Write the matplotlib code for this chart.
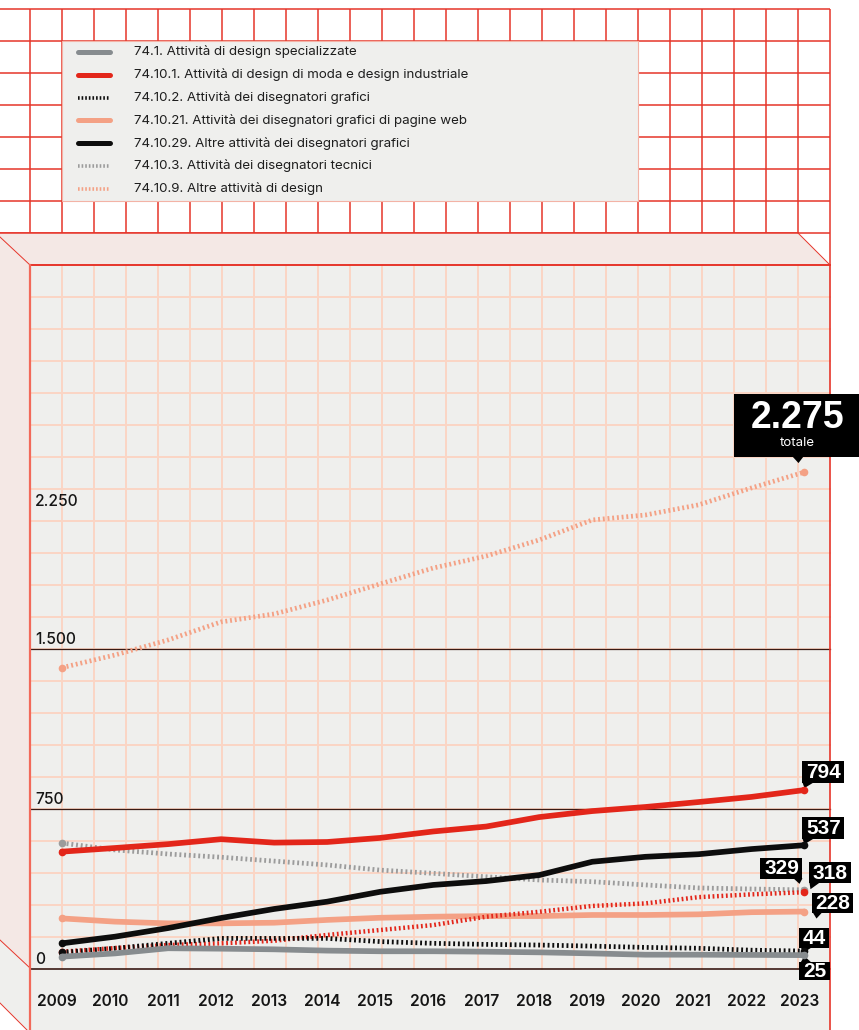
import numpy as np
import matplotlib
matplotlib.use("Agg")
import matplotlib.pyplot as plt
from matplotlib.patches import Polygon, Rectangle

# ---------------- data ----------------
years = list(range(2009, 2024))

s_74_1 = [18, 33, 57, 55, 52, 46, 43, 43, 41, 38, 33, 27, 27, 26, 25]
s_74_10_1 = [507, 524, 542, 565, 549, 552, 571, 601, 624, 668, 696, 715, 738, 762, 794]
s_74_10_2 = [38, 57, 80, 103, 103, 103, 88, 80, 75, 72, 67, 61, 57, 48, 44]
s_74_10_21 = [196, 181, 173, 173, 176, 189, 199, 204, 207, 207, 212, 212, 215, 225, 228]
s_74_10_29 = [80, 111, 151, 198, 240, 274, 320, 352, 370, 398, 460, 483, 495, 519, 537]
s_74_10_3 = [547, 515, 496, 481, 463, 445, 421, 406, 390, 375, 367, 352, 338, 333, 329]
s_74_10_9 = [41, 58, 72, 80, 92, 119, 142, 165, 204, 227, 254, 266, 295, 308, 318]
totale = [1364, 1423, 1493, 1577, 1614, 1679, 1754, 1828, 1884, 1959, 2052, 2075, 2122, 2201, 2275]

legend_labels = [
    "74.1. Attività di design specializzate",
    "74.10.1. Attività di design di moda e design industriale",
    "74.10.2. Attività dei disegnatori grafici",
    "74.10.21. Attività dei disegnatori grafici di pagine web",
    "74.10.29. Altre attività dei disegnatori grafici",
    "74.10.3. Attività dei disegnatori tecnici",
    "74.10.9. Altre attività di design",
]
y_tick_labels = ["0", "750", "1.500", "2.250"]
total_caption = "totale"

# ---------------- style ----------------
RED = "#e6352a"
GRID_SALMON = "#fbd5c4"
PANEL = "#efefed"
PINK = "#f4e8e5"
GREY = "#878c8f"
GREY_DOT = "#9c9c9c"
SALMON = "#f4a185"
BLACK = "#0d0d0d"
FONT = "Inter"
NUMFONT = "Liberation Sans"

W, H = 859, 1030
fig = plt.figure(figsize=(W / 100, H / 100), dpi=100)
fig.patch.set_facecolor("white")

# background canvas in pixel units (y downward)
bg = fig.add_axes([0, 0, 1, 1])
bg.set_xlim(0, W)
bg.set_ylim(H, 0)
bg.axis("off")

# data axes
PL, PR, PT, PB = 30, 830, 265, 1030
ax = fig.add_axes([PL / W, (H - PB) / H, (PR - PL) / W, (PB - PT) / H])
ax.set_xlim(2008.397, 2023.481)
ax.set_ylim(-323.7, 3239.4)
ax.axis("off")
ax.patch.set_alpha(0)


def to_bg(x, y):
    return bg.transData.inverted().transform(ax.transData.transform((x, y)))


# --- top red grid ---
for y in np.arange(9, 234, 32):
    bg.plot([0, 830], [y, y], color=RED, lw=1.1, zorder=1, solid_capstyle="butt")
for x in np.arange(30, 831, 32):
    y1 = 265 if x == 830 else 233
    bg.plot([x, x], [9, y1], color=RED, lw=1.1, zorder=1, solid_capstyle="butt")

# --- legend box ---
bg.add_patch(Rectangle((62, 41), 576, 160, facecolor=PANEL, edgecolor="#f3b3a6",
                       lw=0.8, zorder=2))

# --- ceiling band and left wall ---
bg.add_patch(Polygon([(0, 233), (798, 233), (830, 265), (30, 265), (0, 237)],
                     closed=True, facecolor=PINK, edgecolor="none", zorder=3))
bg.plot([0, 798], [233, 233], color=RED, lw=1.1, zorder=3.5)
bg.add_patch(Polygon([(0, 237), (30, 265), (30, 968), (0, 940)],
                     closed=True, facecolor=PINK, edgecolor="none", zorder=3))
bg.add_patch(Polygon([(0, 940), (30, 968), (30, 1030), (27, 1030), (0, 1003)],
                     closed=True, facecolor=PANEL, edgecolor="none", zorder=3))
for (x0, y0, x1, y1) in [(0, 237, 30, 265), (798, 233, 830, 265),
                         (0, 940, 30, 968), (0, 1003, 27, 1030)]:
    bg.plot([x0, x1], [y0, y1], color=RED, lw=0.7, zorder=3.5)

# --- back panel ---
bg.add_patch(Rectangle((PL, PT), PR - PL, PB - PT, facecolor=PANEL, edgecolor="none", zorder=3))
ZERO_PX = 969
for x in np.arange(62, 800, 32):
    bg.plot([x, x], [PT, ZERO_PX], color=GRID_SALMON, lw=1.4, zorder=3.2)
for y in np.arange(297, ZERO_PX, 32):
    bg.plot([PL, PR], [y, y], color=GRID_SALMON, lw=1.4, zorder=3.2)

# reference lines (0, 750, 1.500) on the tick scale: 160 px per 750
px_per_unit = 160 / 750
tick_vals = [0, 750, 1500, 2250]
for v in tick_vals[:3]:
    yy = ZERO_PX - v * px_per_unit
    bg.plot([PL, PR], [yy, yy], color="#3a1a14", lw=0.9 if v else 1.2, zorder=3.4)
label_y = [960, 800, 640, 501]
for lab, yy in zip(y_tick_labels, label_y):
    bg.text(35, yy, lab, ha="left", va="center", fontsize=11.2, family=FONT,
            fontweight="medium", color="#151515", zorder=4)

# borders
bg.plot([PL, PR], [PT, PT], color=RED, lw=1.4, zorder=3.6)
bg.plot([PL, PL], [PT, PB], color="#f2695a", lw=1.6, zorder=3.6)
bg.plot([PR, PR], [PT, PB], color=RED, lw=1.2, zorder=3.6)

# year labels
for yr in years:
    xx, _ = to_bg(yr, 0)
    bg.text(xx - 5, 1002, str(yr), ha="center", va="center", fontsize=11.2,
            family=FONT, fontweight="semibold", color="#151515", zorder=4)

# ---------------- series ----------------
DOT = (0, (0.4, 0.6))
series = [
    (totale, SALMON, "dot", 3.4),
    (s_74_10_3, GREY_DOT, "dot", 3.4),
    (s_74_10_1, "#e3261a", "solid", 4.1),
    (s_74_10_21, SALMON, "solid", 4.1),
    (s_74_10_29, BLACK, "solid", 4.1),
    (s_74_10_9, "#e3261a", "dot", 3.2),
    (s_74_10_2, BLACK, "dot", 3.4),
    (s_74_1, GREY, "solid", 4.1),
]
for i, (vals, col, kind, lw) in enumerate(series):
    z = 5 + i
    if kind == "dot":
        ax.plot(years, vals, color=col, lw=lw, linestyle=DOT, dash_capstyle="butt",
                solid_joinstyle="round", zorder=z)
    else:
        ax.plot(years, vals, color=col, lw=lw, solid_capstyle="round",
                solid_joinstyle="round", zorder=z)
    ax.plot([years[0], years[-1]], [vals[0], vals[-1]], "o", ms=5.5, color=col,
            mec="none", zorder=z + 0.5)

# ---------------- end labels ----------------
def box_label(vals, text, box, tri, fs=15):
    ax_, ay_ = to_bg(years[-1], vals[-1])
    x0, x1, y0, y1 = box
    bg.add_patch(Rectangle((ax_ + x0, ay_ + y0), x1 - x0, y1 - y0, facecolor="black",
                           edgecolor="none", zorder=20, clip_on=False))
    bg.add_patch(Polygon([(ax_ + px, ay_ + py) for px, py in tri], closed=True,
                         facecolor="black", edgecolor="none", zorder=20, clip_on=False))
    bg.text(ax_ + (x0 + x1) / 2, ay_ + (y0 + y1) / 2 + 0.5, text, ha="center", va="center",
            fontsize=fs, family=NUMFONT, fontweight="bold", color="white", zorder=21)


box_label(s_74_10_1, "794", (-2, 40, -29, -7), [(-2, -7.5), (9, -7.5), (0, -2)])
box_label(s_74_10_29, "537", (-2, 40, -28, -6), [(-2, -6.5), (9, -6.5), (0, -1)])
box_label(s_74_10_3, "329", (-44, -2, -32, -11), [(-11, -11.5), (-2, -11.5), (-5, -6)])
box_label(s_74_10_9, "318", (5, 47, -30, -9), [(5, -9.5), (15, -9.5), (6, -3)])
box_label(s_74_10_21, "228", (8, 49, -19, 1), [(8, 0.5), (18, 0.5), (12, 7)])
box_label(s_74_10_2, "44", (-5, 25, -23, -3), [(-4, -3.5), (7, -3.5), (0, 1)])
box_label(s_74_1, "25", (-5, 26, 7, 25), [(-4, 7.5), (7, 7.5), (0, 1)])

# total label
tx, ty = to_bg(years[-1], totale[-1])
bg.add_patch(Rectangle((tx - 70, ty - 78), 125, 63, facecolor="black", edgecolor="none",
                       zorder=20, clip_on=False))
bg.add_patch(Polygon([(tx - 12, ty - 15.5), (tx - 1, ty - 15.5), (tx - 6, ty - 9)], closed=True,
                     facecolor="black", edgecolor="none", zorder=20, clip_on=False))
bg.text(tx - 7, ty - 54, f"{totale[-1]:,}".replace(",", "."), ha="center", va="center",
        fontsize=27, family=NUMFONT, fontweight="bold", color="white", zorder=21)
bg.text(tx - 7, ty - 29, total_caption, ha="center", va="center", fontsize=9.5,
        family=FONT, color="white", zorder=21)

# ---------------- legend ----------------
leg_styles = [
    (GREY, "solid"), ("#e3261a", "solid"), (BLACK, "dot"), (SALMON, "solid"),
    (BLACK, "solid"), (GREY_DOT, "dot"), (SALMON, "dot"),
]
row_y = 52
for lab, (col, kind) in zip(legend_labels, leg_styles):
    if kind == "dot":
        bg.plot([78, 110], [row_y, row_y], color=col, lw=2.6, linestyle=(0, (0.45, 0.55)),
                dash_capstyle="butt", zorder=6)
    else:
        bg.plot([78, 110], [row_y, row_y], color=col, lw=3.6, solid_capstyle="round", zorder=6)
    bg.text(134, row_y, lab, ha="left", va="center", fontsize=9.6, family=FONT,
            color="#1e1e1e", zorder=6)
    row_y += 22.8

fig.savefig("out.png", dpi=100, facecolor="white")
